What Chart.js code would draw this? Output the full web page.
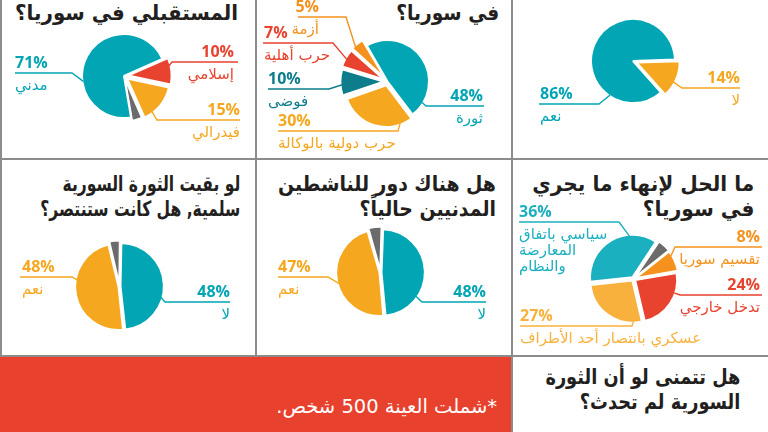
<!DOCTYPE html>
<html lang="ar">
<head>
<meta charset="utf-8">
<script src="https://cdn.jsdelivr.net/npm/chart.js@4.4.1/dist/chart.umd.min.js"></script>
<style>
body { margin: 0; background: #fff; }
#page { position: relative; width: 768px; height: 432px; overflow: hidden; background: #fff; font-family: "DejaVu Sans", sans-serif; }
.cell { position: absolute; }
.cell canvas { position: absolute; left: 0; top: 0; }
.title { position: absolute; direction: rtl; text-align: right; font-weight: bold; font-size: 21px; line-height: 25px; color: #231f20; white-space: nowrap; transform-origin: right top; }
.rule { position: absolute; background: #8c8c8c; z-index: 5; }
#note { position: absolute; left: 0; top: 357px; width: 512px; height: 75px; background: #e8412e; }
#note div { position: absolute; right: 15px; top: 38px; direction: rtl; color: #fff; font-size: 19.5px; white-space: nowrap; }
</style>
</head>
<body>
<div id="page">
  <div class="cell" style="left:0;top:0;width:256px;height:160px">
    <div class="title" data-w="223" style="right:18px;top:1px">المستقبلي في سوريا؟</div>
    <canvas id="future" width="256" height="160"></canvas>
  </div>
  <div class="cell" style="left:256px;top:0;width:256px;height:160px">
    <div class="title" data-w="103" style="right:13px;top:1px">في سوريا؟</div>
    <canvas id="war" width="256" height="160"></canvas>
  </div>
  <div class="cell" style="left:512px;top:0;width:256px;height:160px">
    <canvas id="still" width="256" height="160"></canvas>
  </div>
  <div class="cell" style="left:0;top:160px;width:256px;height:195px">
    <div class="title" data-w="200" style="right:16px;top:12px">لو بقيت الثورة السورية<br>سلمية, هل كانت ستنتصر؟</div>
    <canvas id="peaceful" width="256" height="195"></canvas>
  </div>
  <div class="cell" style="left:256px;top:160px;width:256px;height:195px">
    <div class="title" data-w="218" style="right:16px;top:12px">هل هناك دور للناشطين<br>المدنيين حالياً؟</div>
    <canvas id="activists" width="256" height="195"></canvas>
  </div>
  <div class="cell" style="left:512px;top:160px;width:256px;height:195px">
    <div class="title" data-w="222" style="right:14px;top:12px">ما الحل لإنهاء ما يجري<br>في سوريا؟</div>
    <canvas id="solution" width="256" height="195"></canvas>
  </div>
  <div id="note"><div>*شملت العينة 500 شخص.</div></div>
  <div class="cell" style="left:512px;top:357px;width:256px;height:75px">
    <div class="title" data-w="195" style="right:28px;top:8px">هل تتمنى لو أن الثورة<br>السورية لم تحدث؟</div>
  </div>
  <div class="rule" style="left:0;top:0;width:2px;height:356px"></div>
  <div class="rule" style="left:255px;top:0;width:2px;height:356px"></div>
  <div class="rule" style="left:511px;top:0;width:2px;height:432px"></div>
  <div class="rule" style="left:0;top:158px;width:768px;height:2px"></div>
  <div class="rule" style="left:0;top:355px;width:768px;height:2px"></div>
</div>
<script>
// values (percent)
const futureLabels = ['إسلامي', 'فيدرالي', 'أخرى', 'مدني'];
const futureValues = [10, 15, 4, 71];

const warLabels = ['ثورة', 'حرب دولية بالوكالة', 'فوضى', 'حرب أهلية', 'أزمة'];
const warValues = [48, 30, 10, 7, 5];

const stillLabels = ['لا', 'نعم'];
const stillValues = [14, 86];

const peacefulLabels = ['لا', 'نعم', 'أخرى'];
const peacefulValues = [48, 48, 4];

const activistLabels = ['لا', 'نعم', 'أخرى'];
const activistValues = [48, 47, 5];

const solutionLabels = [['سياسي باتفاق', 'المعارضة', 'والنظام'], 'أخرى', 'تقسيم سوريا', 'تدخل خارجي', 'عسكري بانتصار أحد الأطراف'];
const solutionValues = [36, 5, 8, 24, 27];

const TEAL = '#02a5b4', ORANGE = '#f5a71f', RED = '#e8432f', DARKTEAL = '#0e7d8b', AMBER = '#f5921e', GRAY = '#6b6b6b';

// squeeze the bold titles to the widths they have in the picture
document.querySelectorAll('.title').forEach(el => {
    const w = el.getBoundingClientRect().width;
    el.style.transform = 'scaleX(' + (el.dataset.w / w) + ')';
});

// leader lines and labels, drawn from each arc
const leaders = {
    id: 'leaders',
    afterDatasetsDraw(chart, args, opts) {
        const ctx = chart.ctx;
        const meta = chart.getDatasetMeta(0);
        const ds = chart.data.datasets[0];
        opts.items.forEach((it, i) => {
            if (!it) return;
            const arc = meta.data[i];
            const p = arc.getProps(['x', 'y', 'startAngle', 'endAngle', 'outerRadius'], true);
            const off = (arc.options.offset || 0) / 4;
            const mid = (p.startAngle + p.endAngle) / 2;
            const a = p.startAngle + (p.endAngle - p.startAngle) * it.t;
            const sx = p.x + Math.cos(mid) * off + Math.cos(a) * (p.outerRadius - 1);
            const sy = p.y + Math.sin(mid) * off + Math.sin(a) * (p.outerRadius - 1);
            const color = ds.backgroundColor[i];
            ctx.save();
            ctx.strokeStyle = color;
            ctx.lineWidth = 1.4;
            ctx.beginPath();
            ctx.moveTo(sx, sy);
            ctx.lineTo(it.ex, it.ey);
            ctx.lineTo(it.lx, it.ey);
            ctx.stroke();
            ctx.fillStyle = color;
            ctx.textAlign = it.align;
            ctx.font = 'bold 16px "Open Sans", "DejaVu Sans", sans-serif';
            ctx.fillText(ds.data[i] + '%', it.tx, it.ey - 5);
            ctx.font = '15px "DejaVu Sans", sans-serif';
            ctx.direction = 'rtl';
            const name = chart.data.labels[i];
            const lines = Array.isArray(name) ? name : [name];
            lines.forEach((ln, k) => ctx.fillText(ln, it.tx, it.ey + 17 + k * 16));
            ctx.restore();
        });
    }
};

function makePie(id, labels, values, colors, offsets, rotation, cx, cy, r, items) {
    const canvas = document.getElementById(id);
    const W = canvas.width, H = canvas.height;
    return new Chart(canvas, {
        type: 'pie',
        data: {
            labels: labels,
            datasets: [{
                data: values,
                backgroundColor: colors,
                borderColor: '#fff',
                borderWidth: 2,
                offset: offsets,
                rotation: rotation,
                radius: r
            }]
        },
        options: {
            responsive: false,
            animation: false,
            devicePixelRatio: 1,
            layout: {
                padding: {
                    left: Math.max(0, 2 * cx - W), right: Math.max(0, W - 2 * cx),
                    top: Math.max(0, 2 * cy - H), bottom: Math.max(0, H - 2 * cy)
                }
            },
            plugins: {
                legend: { display: false },
                tooltip: { enabled: false },
                leaders: { items: items }
            }
        },
        plugins: [leaders]
    });
}

makePie('future', futureLabels, futureValues, [RED, ORANGE, GRAY, TEAL], [16, 16, 8, 0], 66, 124, 76, 42, [
    { t: 0.33, ex: 172, ey: 62, lx: 238, tx: 234, align: 'right' },
    { t: 0.76, ex: 157, ey: 120, lx: 240, tx: 240, align: 'right' },
    null,
    { t: 0.36, ex: 72, ey: 73, lx: 15, tx: 15, align: 'left' }
]);

makePie('war', warLabels, warValues, [TEAL, ORANGE, DARKTEAL, RED, AMBER], [0, 16, 16, 16, 16], -30, 131.5, 81.5, 41.5, [
    { t: 0.875, ex: 170, ey: 106, lx: 228, tx: 227, align: 'right' },
    { t: 0.16, ex: 142, ey: 131, lx: 22, tx: 22, align: 'left' },
    { t: 0.42, ex: 73, ey: 89, lx: 12, tx: 12, align: 'left' },
    { t: 0.42, ex: 77, ey: 43, lx: 7, tx: 8, align: 'left' },
    { t: 0.17, ex: 90, ey: 17, lx: 42, tx: 63, align: 'right' }
]);

makePie('still', stillLabels, stillValues, [ORANGE, TEAL], [16, 0], 88, 121, 61, 42, [
    { t: 0.59, ex: 170, ey: 88, lx: 228, tx: 228, align: 'right' },
    { t: 0.244, ex: 87, ey: 104, lx: 27, tx: 28, align: 'left' }
]);

makePie('peaceful', peacefulLabels, peacefulValues, [TEAL, ORANGE, GRAY], [4, 4, 8], 1, 119.5, 126.5, 42.5, [
    { t: 0.6, ex: 165, ey: 142, lx: 230, tx: 230, align: 'right' },
    { t: 0.61, ex: 72, ey: 117, lx: 20, tx: 22, align: 'left' },
    null
]);

makePie('activists', activistLabels, activistValues, [TEAL, ORANGE, GRAY], [4, 4, 8], 2, 124.5, 112.5, 42.5, [
    { t: 0.71, ex: 166, ey: 142, lx: 230, tx: 230, align: 'right' },
    { t: 0.47, ex: 72, ey: 117, lx: 22, tx: 22, align: 'left' },
    null
]);

makePie('solution', solutionLabels, solutionValues, ['#1bb0bf', GRAY, AMBER, RED, '#f7b13c'], [8, 8, 8, 8, 8], 264, 121.5, 119, 42, [
    { t: 0.71, ex: 107, ey: 62, lx: 7, tx: 7, align: 'left' },
    null,
    { t: 0.25, ex: 163, ey: 87, lx: 250, tx: 248, align: 'right' },
    { t: 0.32, ex: 168, ey: 135, lx: 250, tx: 248, align: 'right' },
    { t: 0.12, ex: 120, ey: 166, lx: 8, tx: 8, align: 'left' }
]);
</script>
</body>
</html>
